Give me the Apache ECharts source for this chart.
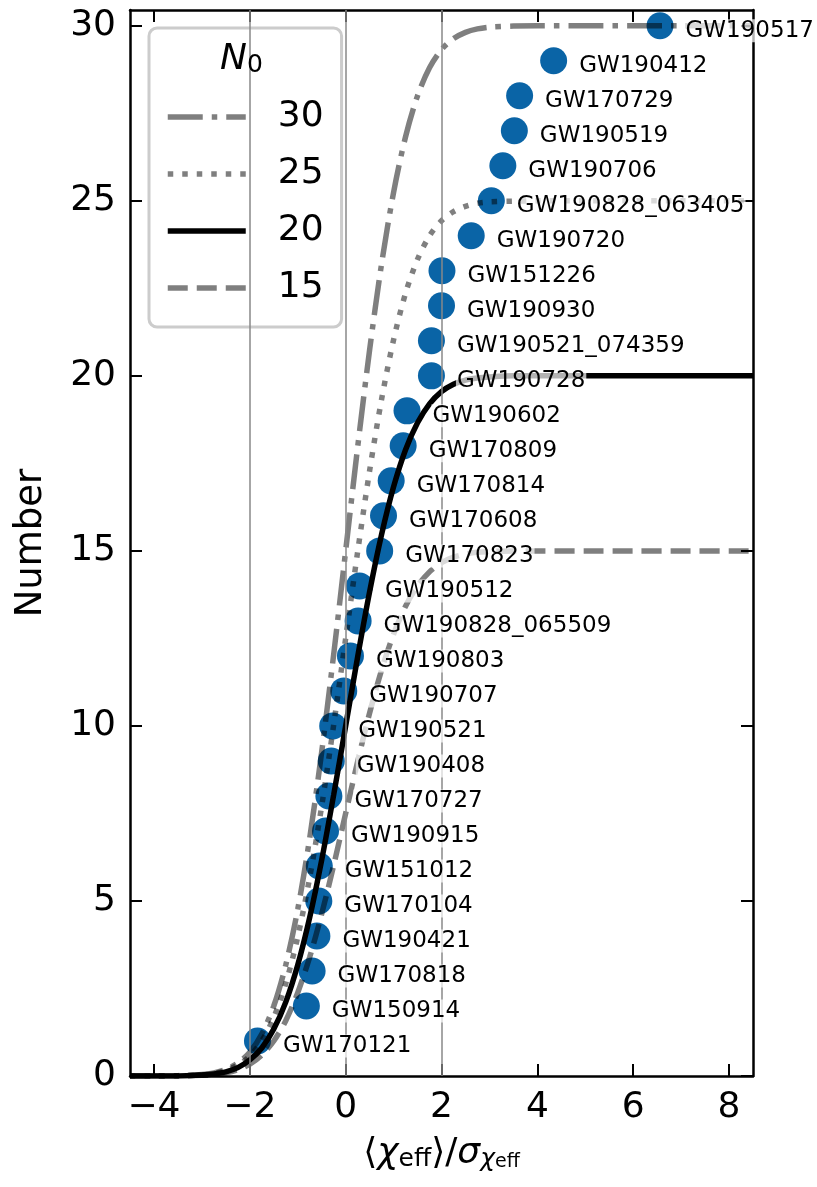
<!DOCTYPE html>
<html><head><meta charset="utf-8">
<script src="https://cdn.jsdelivr.net/npm/echarts@6/dist/echarts.min.js"></script>
<style>html,body{margin:0;padding:0;background:#fff}#c{width:817px;height:1187px}</style>
</head><body><div id="c"></div>
<script>
// ---- data ----
const eventNames = ['GW170121','GW150914','GW170818','GW190421','GW170104','GW151012','GW190915','GW170727','GW190408','GW190521',
  'GW190707','GW190803','GW190828_065509','GW190512','GW170823','GW170608','GW170814','GW170809','GW190602','GW190728',
  'GW190521_074359','GW190930','GW151226','GW190720','GW190828_063405','GW190706','GW190519','GW170729','GW190412','GW190517'];
const eventX = [-1.84,-0.82,-0.70,-0.60,-0.56,-0.55,-0.42,-0.35,-0.30,-0.27,
  -0.04,0.10,0.26,0.29,0.71,0.79,0.95,1.20,1.28,1.79,
  1.79,2.00,2.01,2.62,3.04,3.28,3.52,3.63,4.34,6.56];
const eventY = [1,2,3,4,5,6,7,8,9,10,11,12,13,14,15,16,17,18,19,20,21,22,23,24,25,26,27,28,29,30];

const curveX = [-4.5,-4,-3.5,-3,-2.75,-2.5,-2.25,-2,-1.75,-1.5,-1.25,-1,-0.75,-0.5,-0.25,0,0.25,0.5,0.75,1,1.25,1.5,1.75,2,2.25,2.5,2.75,3,3.5,4,5,6,7,8.5];
const curveN30 = [0,0,0.01,0.04,0.09,0.19,0.37,0.68,1.20,2.00,3.17,4.76,6.80,9.26,12.04,15.00,17.96,20.74,23.20,25.24,26.83,28.00,28.80,29.32,29.63,29.81,29.91,29.96,29.99,30,30,30,30,30];
const curveN25 = [0,0,0.01,0.03,0.07,0.16,0.31,0.57,1.00,1.67,2.64,3.97,5.67,7.71,10.03,12.50,14.97,17.29,19.33,21.03,22.36,23.33,24.00,24.43,24.69,24.84,24.93,24.97,24.99,25,25,25,25,25];
const curveN20 = [0,0,0,0.03,0.06,0.12,0.24,0.46,0.80,1.34,2.11,3.17,4.53,6.17,8.03,10.00,11.97,13.83,15.47,16.83,17.89,18.66,19.20,19.55,19.76,19.88,19.94,19.97,20,20,20,20,20,20];
const curveN15 = [0,0,0,0.02,0.04,0.09,0.18,0.34,0.60,1.00,1.58,2.38,3.40,4.63,6.02,7.50,8.98,10.37,11.60,12.62,13.42,14.00,14.40,14.66,14.82,14.91,14.96,14.98,15,15,15,15,15,15];
const legendNames = ['30','25','20','15'];
const vLines = [-2,0,2];
const xTicks = [-4,-2,0,2,4,6,8];
const yTicks = [0,5,10,15,20,25,30];

// ---- chart ----
const FONT = 'DejaVu Sans';
const BLUE = '#0a64a6';
const GRAYLINE = 'rgba(0,0,0,0.5)';
const LW = 5.5;
const pts = eventX.map((x,i)=>({value:[x,eventY[i]], name:eventNames[i]}));
const zip = ys => curveX.map((x,i)=>[x,ys[i]]);
const minus = v => String(v).replace('-', '\u2212');

const axisLineStyle = {color:'#000', width:2.5};
const tickStyle = {color:'#000', width:2};
const SMOOTH = 0.3;

const chart = echarts.init(document.getElementById('c'), null, {renderer:'canvas'});
chart.setOption({
  animation:false,
  backgroundColor:'#fff',
  grid:{left:130, right:64, top:10, bottom:111, containLabel:false, outerBoundsMode:'none'},
  xAxis:[{
    type:'value', min:-4.5, max:8.5, position:'bottom',
    axisLine:{show:true, onZero:false, lineStyle:axisLineStyle},
    axisTick:{show:true, inside:true, length:12, lineStyle:tickStyle, customValues:xTicks},
    axisLabel:{customValues:xTicks, formatter:minus, fontSize:36, fontFamily:FONT, color:'#000', margin:14},
    splitLine:{show:false},
    name:'{p|\u27E8}{c|\u03C7}{e|eff}{p|\u27E9/}{c|\u03C3}{s|\u03C7}{t|eff}',
    nameLocation:'middle', nameGap:50,
    nameTextStyle:{fontFamily:FONT, color:'#000', rich:{
      p:{fontSize:36, fontFamily:FONT, lineHeight:46, verticalAlign:'bottom'},
      c:{fontSize:36, fontFamily:FONT, fontStyle:'italic', lineHeight:46, verticalAlign:'bottom'},
      e:{fontSize:25, fontFamily:FONT, lineHeight:26, verticalAlign:'bottom'},
      s:{fontSize:25, fontFamily:FONT, fontStyle:'italic', lineHeight:22, verticalAlign:'bottom'},
      t:{fontSize:19, fontFamily:FONT, lineHeight:12, verticalAlign:'bottom'}
    }}
  },{
    type:'value', min:-4.5, max:8.5, position:'top',
    axisLine:{show:true, onZero:false, lineStyle:axisLineStyle},
    axisTick:{show:true, inside:true, length:12, lineStyle:tickStyle, customValues:xTicks},
    axisLabel:{show:false}, splitLine:{show:false}
  }],
  yAxis:[{
    type:'value', min:0, max:30.45, position:'left',
    axisLine:{show:true, onZero:false, lineStyle:axisLineStyle},
    axisTick:{show:true, inside:true, length:12, lineStyle:tickStyle, customValues:yTicks},
    axisLabel:{customValues:yTicks, fontSize:36, fontFamily:FONT, color:'#000', margin:14},
    splitLine:{show:false},
    name:'Number', nameLocation:'middle', nameGap:80,
    nameTextStyle:{fontSize:37, fontFamily:FONT, color:'#000'}
  },{
    type:'value', min:0, max:30.45, position:'right',
    axisLine:{show:true, onZero:false, lineStyle:axisLineStyle},
    axisTick:{show:true, inside:true, length:12, lineStyle:tickStyle, customValues:yTicks},
    axisLabel:{show:false}, splitLine:{show:false}
  }],
  legend:{
    orient:'vertical', left:149, top:28, data:legendNames,
    itemWidth:78, itemHeight:20, itemGap:17,
    padding:[69,18,19,16],
    backgroundColor:'#fff', borderColor:'#cccccc', borderWidth:3, borderRadius:8,
    textStyle:{fontSize:36, fontFamily:FONT, color:'#000', lineHeight:40, padding:[0,0,0,27]},
    lineStyle:{width:LW},
    itemStyle:{opacity:0},
    selectedMode:false
  },
  graphic:[{
    type:'text', left:220, top:42, z:100,
    style:{text:'{i|N}{s|0}', rich:{
      i:{fontSize:36, fontFamily:FONT, fontStyle:'italic', lineHeight:40, verticalAlign:'bottom', fill:'#000'},
      s:{fontSize:25, fontFamily:FONT, lineHeight:24, verticalAlign:'bottom', fill:'#000'}
    }}
  }],
  series:[
    {type:'scatter', name:'vlines', data:[], z:1, silent:true,
     markLine:{silent:true, symbol:['none','none'], label:{show:false},
       lineStyle:{color:'#888', width:1.5, type:'solid'},
       data:vLines.map(v=>({xAxis:v}))}},
    {type:'scatter', name:'events', data:pts, symbol:'circle', symbolSize:27, z:2,
     itemStyle:{color:BLUE, opacity:1}},
    {type:'line', name:'30', data:zip(curveN30), smooth:SMOOTH, symbol:'none', showSymbol:false, z:3,
     lineStyle:{color:GRAYLINE, width:LW, type:[35,9,5.5,9], cap:'butt'}, itemStyle:{color:GRAYLINE}},
    {type:'line', name:'25', data:zip(curveN25), smooth:SMOOTH, symbol:'none', showSymbol:false, z:3,
     lineStyle:{color:GRAYLINE, width:LW, type:[5.5,9], cap:'butt'}, itemStyle:{color:GRAYLINE}},
    {type:'line', name:'20', data:zip(curveN20), smooth:SMOOTH, symbol:'none', showSymbol:false, z:4,
     lineStyle:{color:'#000', width:LW, type:'solid', cap:'butt'}, itemStyle:{color:'#000'}},
    {type:'line', name:'15', data:zip(curveN15), smooth:SMOOTH, symbol:'none', showSymbol:false, z:3,
     lineStyle:{color:GRAYLINE, width:LW, type:[20,9], cap:'butt'}, itemStyle:{color:GRAYLINE}},
    {type:'scatter', name:'labels', data:pts, symbol:'circle', symbolSize:27, z:10, silent:true,
     itemStyle:{color:'rgba(0,0,0,0)'},
     label:{show:true, position:'right', distance:11, offset:[0,5], formatter:p=>p.name, opacity:1,
       fontSize:23, fontFamily:FONT, color:'#000', backgroundColor:'rgba(255,255,255,0.7)', padding:[0,1]}}
  ]
});
</script></body></html>
